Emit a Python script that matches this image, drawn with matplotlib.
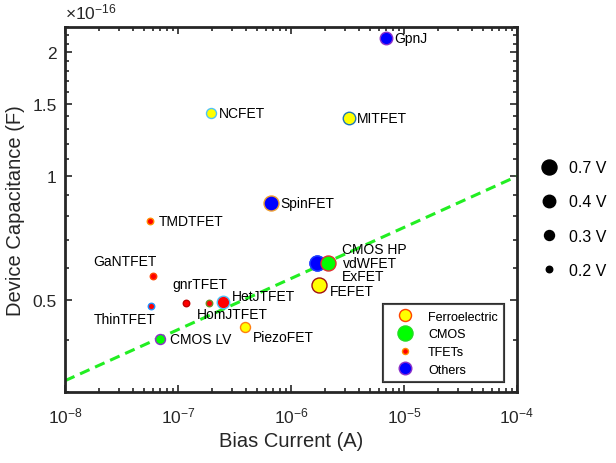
import numpy as np
import matplotlib
matplotlib.use('Agg')
import matplotlib.pyplot as plt
from matplotlib.lines import Line2D
from matplotlib.ticker import FixedLocator, NullFormatter, LogLocator

plt.rcParams['font.family'] = ['Liberation Sans', 'DejaVu Sans']
plt.rcParams['mathtext.fontset'] = 'custom'
plt.rcParams['mathtext.rm'] = 'Liberation Sans'
plt.rcParams['mathtext.it'] = 'Liberation Sans'
plt.rcParams['mathtext.bf'] = 'Liberation Sans'

# device benchmark: bias current (A), capacitance (x1e-16 F), supply (V)
devices = ['GpnJ', 'NCFET', 'MITFET', 'SpinFET', 'TMDTFET', 'GaNTFET',
           'gnrTFET', 'HomJTFET', 'HetJTFET', 'ThinTFET', 'PiezoFET',
           'CMOS LV', 'vdWFET', 'ExFET', 'CMOS HP', 'FEFET']
current = [7.0e-6, 1.96e-7, 3.25e-6, 6.65e-7, 5.65e-8, 6.05e-8,
           1.18e-7, 1.88e-7, 2.52e-7, 5.77e-8, 3.95e-7,
           6.95e-8, 1.71e-6, 1.71e-6, 2.11e-6, 1.77e-6]
capacitance = [2.17, 1.424, 1.383, 0.860, 0.780, 0.572,
               0.492, 0.492, 0.494, 0.485, 0.430,
               0.403, 0.615, 0.615, 0.615, 0.545]
voltage = [0.4, 0.3, 0.4, 0.7, 0.2, 0.2,
           0.2, 0.2, 0.4, 0.2, 0.3,
           0.3, 0.7, 0.7, 0.7, 0.7]
group = ['Others', 'Ferroelectric', 'Ferroelectric', 'Others', 'TFETs', 'TFETs',
         'TFETs', 'TFETs', 'TFETs', 'TFETs', 'Ferroelectric',
         'CMOS', 'Others', 'Others', 'CMOS', 'Ferroelectric']

# CMOS scaling trend line
trend_current = [1e-8, 1e-4]
trend_cap = [0.319, 1.0]

size_levels = [0.7, 0.4, 0.3, 0.2]
group_names = ['Ferroelectric', 'CMOS', 'TFETs', 'Others']

# styling
face = {'Ferroelectric': '#ffff00', 'CMOS': '#00ff00', 'TFETs': '#ff0000', 'Others': '#0000ff'}
edge = ['#8b2fc9', '#4fc3f7', '#1f77b4', '#f0a030', '#ff8c00', '#ff4500',
        '#c00000', '#6b8e23', '#4fc3f7', '#1e90ff', '#ff7f0e',
        '#8b2fc9', '#1e3cff', '#1e3cff', '#e03030', '#a01010']
diam_px = {0.7: 15, 0.4: 12.5, 0.3: 10, 0.2: 6.5}
label_off = {  # offset pixels, ha
    'GpnJ': (8, 0, 'left'), 'NCFET': (8, 0, 'left'), 'MITFET': (8, 0, 'left'),
    'SpinFET': (9, 0, 'left'), 'TMDTFET': (9, 0, 'left'),
    'GaNTFET': (-28, 15, 'center'), 'gnrTFET': (14, 19, 'center'),
    'HetJTFET': (9, 6, 'left'), 'HomJTFET': (23, -11, 'center'),
    'ThinTFET': (-26, -13, 'center'), 'PiezoFET': (7, -10, 'left'),
    'CMOS LV': (10, 0, 'left'), 'CMOS HP': (14, 14, 'left'),
    'vdWFET': (26, 0.5, 'left'), 'ExFET': (25, -13, 'left'), 'FEFET': (11, -6, 'left'),
}

px2pt = 72 / 100
dark = '#262626'

fig = plt.figure(figsize=(6.16, 4.64), dpi=100)
ax = fig.add_axes([65 / 616, 71.3 / 464, 452 / 616, 364.4 / 464])
ax.set_xscale('log')
ax.set_yscale('log')

ax.plot(trend_current, trend_cap, '--', color='#22ee22', lw=2.2,
        dashes=(3.4, 2.0), zorder=2)

for i, name in enumerate(devices):
    ax.plot(current[i], capacitance[i], 'o', ms=diam_px[voltage[i]] * px2pt,
            mfc=face[group[i]], mec=edge[i], mew=1.0, zorder=3)
    dx, dy, ha = label_off[name]
    ax.annotate(name, (current[i], capacitance[i]), xytext=(dx, dy),
                textcoords='offset pixels', ha=ha, va='center',
                fontsize=10, color='black', zorder=4)

ax.set_xlim(1e-8, 1e-4)
ax.set_ylim(0.3, 2.3)

ax.set_yticks([0.5, 1, 1.5, 2])
ax.set_yticklabels(['0.5', '1', '1.5', '2'])
ax.yaxis.set_minor_locator(FixedLocator(
    [v / 10 for v in range(3, 24) if v not in (5, 10, 15, 20)]))
ax.yaxis.set_minor_formatter(NullFormatter())
ax.xaxis.set_major_locator(LogLocator(base=10, numticks=10))
ax.xaxis.set_minor_locator(LogLocator(base=10, subs=np.arange(2, 10), numticks=10))

ax.tick_params(which='both', direction='in', top=True, right=True,
               colors=dark, labelsize=12.5, width=1.2)
ax.tick_params(which='major', length=5)
ax.tick_params(which='minor', length=3)
ax.tick_params(axis='x', which='major', pad=10)
ax.tick_params(axis='y', which='major', pad=6)
for sp in ax.spines.values():
    sp.set_linewidth(2)
    sp.set_color(dark)

ax.set_xlabel('Bias Current (A)', fontsize=14.5, color=dark, labelpad=4)
ax.set_ylabel('Device Capacitance (F)', fontsize=14.5, color=dark, labelpad=5)
ax.text(0.0, 1.015, r'$\times10^{-16}$', transform=ax.transAxes,
        fontsize=12.5, color=dark, ha='left', va='bottom')

# group legend
gh = [Line2D([], [], ls='', marker='o', ms=12 * px2pt, mfc='#ffff00', mec='#ff4500', mew=1),
      Line2D([], [], ls='', marker='o', ms=15 * px2pt, mfc='#00ff00', mec='#22dd22', mew=1),
      Line2D([], [], ls='', marker='o', ms=6 * px2pt, mfc='#ff0000', mec='#ff8c00', mew=1),
      Line2D([], [], ls='', marker='o', ms=12.5 * px2pt, mfc='#0000ff', mec='#8b2fc9', mew=1)]
leg1 = ax.legend(gh, group_names, loc='lower right', bbox_to_anchor=(0.971, 0.027),
                 fontsize=9, frameon=True, fancybox=False, edgecolor=dark,
                 handletextpad=0.53, labelspacing=0.45, borderpad=0.5,
                 handlelength=2.56, borderaxespad=0)
leg1.get_frame().set_linewidth(1.5)
ax.add_artist(leg1)

# supply voltage legend
sh = [Line2D([], [], ls='', marker='o', ms=diam_px[v] * px2pt, color='black')
      for v in size_levels]
fig.legend(sh, ['%.1f V' % v for v in size_levels], loc='center left',
           bbox_to_anchor=(527 / 616, 1 - 220 / 464), fontsize=11.5,
           frameon=False, labelspacing=1.2, handletextpad=0.7,
           handlelength=1.0)

fig.savefig('out.png', dpi=100)
